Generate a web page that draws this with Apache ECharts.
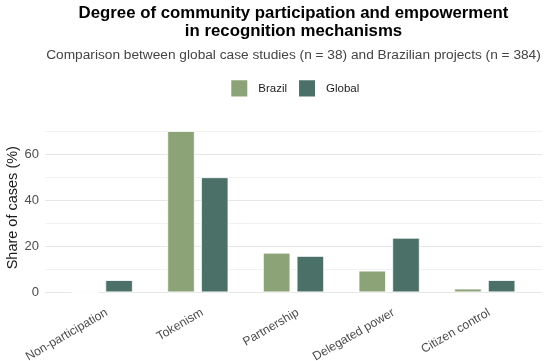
<!DOCTYPE html>
<html><head><meta charset="utf-8">
<script src="https://cdn.jsdelivr.net/npm/echarts@6/dist/echarts.min.js"></script>
<style>html,body{margin:0;padding:0;background:#fff}#c{width:550px;height:361px}</style>
</head><body><div id="c"></div>
<script>
const categories = ["Non-participation", "Tokenism", "Partnership", "Delegated power", "Citizen control"];
const brazil = [0, 70.1, 17.2, 9.4, 1.6];
const globalVals = [5.3, 50.0, 15.8, 23.7, 5.3];
const seriesNames = ["Brazil", "Global"];
const titleText = "Degree of community participation and empowerment\nin recognition mechanisms";
const subtitleText = "Comparison between global case studies (n = 38) and Brazilian projects (n = 384)";
const yTitle = "Share of cases (%)";

const chart = echarts.init(document.getElementById('c'), null, {renderer: 'canvas'});
const font = 'Liberation Sans, Arial, sans-serif';
const TOP = 123.1, BOTTOM = 361 - 292.3, YMAX = 73.55;
const LBL_SHIFT = 4.5;
chart.setOption({
  animation: false,
  backgroundColor: '#fff',
  textStyle: {fontFamily: font},
  title: [
    {text: titleText, left: 293.5, textAlign: 'center', top: 4.8, padding: 0,
     textStyle: {fontSize: 16.8, fontWeight: 'bold', color: '#000', lineHeight: 17.4, fontFamily: font}},
    {text: subtitleText, left: 293.5, textAlign: 'center', top: 48.4, padding: 0,
     textStyle: {fontSize: 13.7, fontWeight: 'normal', color: '#444', fontFamily: font}}
  ],
  legend: {
    data: seriesNames, left: 229.3, top: 78.3, padding: 0, itemWidth: 18, itemHeight: 18.3, itemGap: 10,
    icon: 'rect',
    textStyle: {fontSize: 11.5, color: '#1a1a1a', fontFamily: font, padding: [0, 0, 0, 5]}
  },
  grid: [
    {left: 45, right: 550 - 542.2, top: TOP, bottom: BOTTOM, outerBoundsMode: 'none', containLabel: false},
    {left: 54.4, right: 550 - 532.6, top: TOP, bottom: BOTTOM, outerBoundsMode: 'none', containLabel: false},
    {left: 54.4 + LBL_SHIFT, right: 550 - 532.6 - LBL_SHIFT, top: TOP, bottom: BOTTOM, outerBoundsMode: 'none', containLabel: false}
  ],
  xAxis: [
    {type: 'category', gridIndex: 0, data: ['a'], show: false},
    {type: 'category', gridIndex: 1, data: categories, show: false},
    {type: 'category', gridIndex: 2, data: categories,
     axisLine: {show: false}, axisTick: {show: false},
     axisLabel: {rotate: 30, margin: 19.5, fontSize: 12.2, color: '#4d4d4d', fontFamily: font, interval: 0}}
  ],
  yAxis: [
    {type: 'value', gridIndex: 0, min: 0, max: YMAX, interval: 10,
     name: yTitle, nameLocation: 'middle', nameGap: 25, nameMoveOverlap: false,
     nameTextStyle: {fontSize: 14.5, color: '#1a1a1a', fontFamily: font},
     axisLine: {show: false}, axisTick: {show: false},
     axisLabel: {fontSize: 13, color: '#4d4d4d', margin: 6, fontFamily: font,
       formatter: v => (v % 20 === 0 ? String(v) : ''), showMaxLabel: false},
     splitLine: {show: true, showMaxLine: false, lineStyle: {color: ['#e6e6e6', '#f2f2f2'], width: 1}}},
    {type: 'value', gridIndex: 1, min: 0, max: YMAX, show: false, splitLine: {show: false}},
    {type: 'value', gridIndex: 2, min: 0, max: YMAX, show: false, splitLine: {show: false}}
  ],
  series: [
    {name: seriesNames[0], type: 'bar', xAxisIndex: 1, yAxisIndex: 1, data: brazil,
     barWidth: 27.4, barGap: '23%',
     itemStyle: {color: '#8ba377', borderColor: '#ffffff', borderWidth: 0.8}},
    {name: seriesNames[1], type: 'bar', xAxisIndex: 1, yAxisIndex: 1, data: globalVals,
     barWidth: 27.4, barGap: '23%',
     itemStyle: {color: '#4a7068', borderColor: '#ffffff', borderWidth: 0.8}}
  ]
});
</script></body></html>
